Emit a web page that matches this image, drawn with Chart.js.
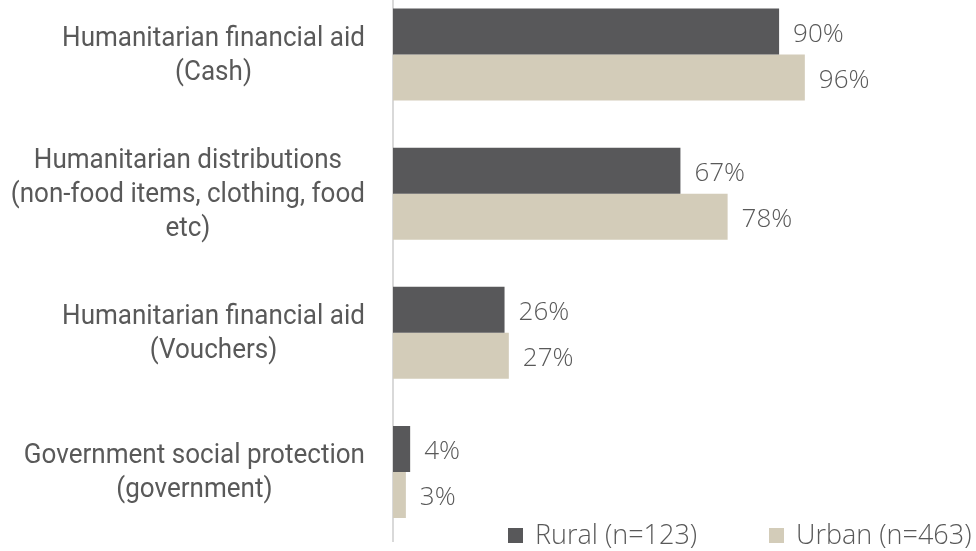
<!DOCTYPE html>
<html>
<head>
<meta charset="utf-8">
<script src="https://cdn.jsdelivr.net/npm/chart.js@4/dist/chart.umd.min.js"></script>
<style>
  html, body { margin: 0; padding: 0; background: #fff; }
  #wrap { position: relative; width: 976px; height: 551px; overflow: hidden; }
  #chart { position: absolute; left: 0; top: -15px; }
</style>
</head>
<body>
<div id="wrap"><canvas id="chart" width="976" height="566"></canvas></div>
<script>
const categories = [
  ["Humanitarian financial aid", "(Cash)"],
  ["Humanitarian distributions", "(non-food items, clothing, food", "etc)"],
  ["Humanitarian financial aid", "(Vouchers)"],
  ["Government social protection", "(government)"]
];
const rural = [90, 67, 26, 4];
const urban = [96, 78, 27, 3];
const seriesNames = ["Rural (n=123)", "Urban (n=463)"];

const TEXT = "#595959";
const LABEL_FONT = "28px Roboto";
const VALUE_FONT = "300 26px 'Open Sans'";
const LEGEND_FONT = "300 27px 'Open Sans'";

// category names: lines centred on each other, block right-aligned to the axis
const categoryLabels = {
  id: "categoryLabels",
  afterDraw(chart) {
    const ctx = chart.ctx;
    const y = chart.scales.y;
    const sx = 0.93;
    const right = 365;
    const lh = 34;
    ctx.save();
    ctx.font = LABEL_FONT;
    ctx.fillStyle = TEXT;
    ctx.textAlign = "center";
    ctx.textBaseline = "middle";
    categories.forEach((lines, i) => {
      const cy = y.getPixelForTick(i) + 1;
      const w = Math.max(...lines.map(l => ctx.measureText(l).width)) * sx;
      const cx = right - w / 2;
      lines.forEach((line, j) => {
        const ly = cy + (j - (lines.length - 1) / 2) * lh;
        ctx.save();
        ctx.translate(cx, ly);
        ctx.scale(sx, 1);
        ctx.fillText(line, 0, 0);
        ctx.restore();
      });
    });
    ctx.restore();
  }
};

const valueLabels = {
  id: "valueLabels",
  afterDatasetsDraw(chart) {
    const ctx = chart.ctx;
    ctx.save();
    ctx.font = VALUE_FONT;
    ctx.fillStyle = TEXT;
    ctx.textAlign = "left";
    ctx.textBaseline = "middle";
    chart.data.datasets.forEach((ds, i) => {
      chart.getDatasetMeta(i).data.forEach((bar, j) => {
        ctx.fillText(ds.data[j] + "%", bar.x + 14, bar.y + 3);
      });
    });
    ctx.restore();
  }
};

const bottomLegend = {
  id: "bottomLegend",
  afterDraw(chart) {
    const ctx = chart.ctx;
    const starts = [508, 769];
    const cy = 550.5;
    ctx.save();
    ctx.font = LEGEND_FONT;
    ctx.textBaseline = "middle";
    ctx.textAlign = "left";
    chart.data.datasets.forEach((ds, i) => {
      ctx.fillStyle = ds.backgroundColor;
      ctx.fillRect(starts[i], cy - 7.5, 15, 15);
      ctx.fillStyle = TEXT;
      ctx.fillText(ds.label, starts[i] + 27, cy + 1);
    });
    ctx.restore();
  }
};

function draw() {
  new Chart(document.getElementById("chart"), {
    type: "bar",
    data: {
      labels: categories,
      datasets: [{
        label: seriesNames[0],
        data: rural,
        backgroundColor: "#58585a",
        categoryPercentage: 0.662,
        barPercentage: 1
      }, {
        label: seriesNames[1],
        data: urban,
        backgroundColor: "#d3ccb9",
        categoryPercentage: 0.662,
        barPercentage: 1
      }]
    },
    options: {
      indexAxis: "y",
      responsive: false,
      animation: false,
      layout: { padding: { top: 0, right: 154, bottom: 9.5, left: 0 } },
      scales: {
        x: { display: false, min: 0, max: 100 },
        y: {
          grid: { display: false },
          border: { display: true, color: "#d9d9d9", width: 2 },
          ticks: { display: false },
          afterFit(scale) { scale.width = 393; }
        }
      },
      plugins: {
        legend: { display: false },
        tooltip: { enabled: false }
      }
    },
    plugins: [categoryLabels, valueLabels, bottomLegend]
  });
}

Promise.all([
  document.fonts.load(LABEL_FONT),
  document.fonts.load(VALUE_FONT),
  document.fonts.load(LEGEND_FONT)
]).then(draw, draw);
</script>
</body>
</html>
